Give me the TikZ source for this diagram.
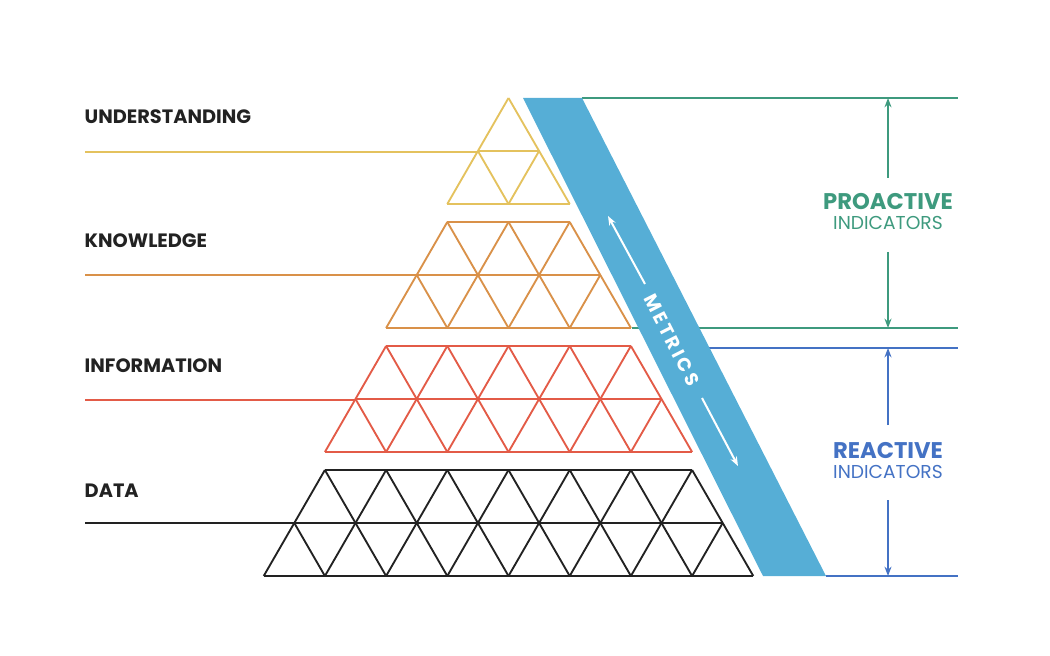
\documentclass[tikz,border=0pt]{standalone}
\usepackage{fontspec}
\setmainfont{Poppins}
\usetikzlibrary{arrows.meta}
\definecolor{yel}{HTML}{E4C25E}
\definecolor{ora}{HTML}{D99149}
\definecolor{redd}{HTML}{E35B47}
\definecolor{blk}{HTML}{222222}
\definecolor{band}{HTML}{56AED6}
\definecolor{grn}{HTML}{3E9A7E}
\definecolor{blu}{HTML}{4472C4}
% one band of the pyramid: #1 colour, #2 top y, #3 triangles along the top edge
\newcommand{\layer}[3]{%
  \pgfmathsetmacro{\xl}{508.5-#3*30.6}
  \pgfmathsetmacro{\xr}{508.5+#3*30.6}
  \draw[#1] (\xl,#2) -- (\xr,#2);
  \draw[#1] (\xl-30.6,#2+53) -- (\xr+30.6,#2+53);
  \draw[#1] (\xl-61.2,#2+106) -- (\xr+61.2,#2+106);
  \foreach \i in {0,...,#3}{
    \draw[#1] (\xl+\i*61.2,#2) -- ++(-61.2,106);
    \draw[#1] (\xl+\i*61.2,#2) -- ++(61.2,106);
  }
  \draw[#1] (\xl-30.6,#2+53) -- (\xl,#2+106);
  \draw[#1] (\xr+30.6,#2+53) -- (\xr,#2+106);
}
\begin{document}
\begin{tikzpicture}[x=0.75pt,y=-0.75pt]
    \tikzstyle{tri} = [line width=1.4pt]
    \tikzstyle{lbl} = [anchor=west,font=\bfseries\fontsize{14.5}{16}\selectfont,text=blk]
    \tikzstyle{ind} = [font=\fontsize{14}{16}\selectfont]
    \tikzstyle{varr} = [line width=1.3pt,-{Stealth[length=7pt]}]
    \useasboundingbox (0,0) rectangle (1050,656);

    % right-hand guide lines
    \draw[grn,line width=1.3pt] (582,98) -- (958,98);
    \draw[grn,line width=1.3pt] (632,328) -- (958,328);
    \draw[blu,line width=1.3pt] (700,348) -- (958,348);
    \draw[blu,line width=1.3pt] (826,576) -- (958,576);

    % left lines and labels
    \draw[yel,tri] (85,152) -- (478,152);
    \draw[ora,tri] (85,275) -- (417,275);
    \draw[redd,tri] (85,400) -- (356,400);
    \draw[blk,tri] (85,523) -- (295,523);
    \node[lbl] (und) at (80,117) {UNDERSTANDING};
    \node[lbl] (kno) at (80,241) {KNOWLEDGE};
    \node[lbl] (inf) at (80,366) {INFORMATION};
    \node[lbl] (dat) at (80,491) {DATA};

    % pyramid
    \layer{yel,tri}{98}{0}
    \layer{ora,tri}{222}{2}
    \layer{redd,tri}{346}{4}
    \layer{blk,tri}{470}{6}

    % metrics band
    \fill[band] (523,98) -- (582,98) -- (826,576) -- (763,576) -- cycle;
    \node[text=white,font=\bfseries\fontsize{14}{16}\selectfont,rotate=-62.9,inner sep=0pt] (met) at (672,340) {M\,E\,T\,R\,I\,C\,S};
    \draw[white,line width=1.5pt,-{Stealth[length=7pt]}] (645,284) -- (608,216);
    \draw[white,line width=1.5pt,-{Stealth[length=7pt]}] (702,398) -- (738,466);

    % indicators
    \node[ind,text=grn] (pro) at (888,202) {\bfseries\fontsize{17}{19}\selectfont PROACTIVE};
    \node[ind,text=grn] (pro2) at (888,223) {INDICATORS};
    \node[ind,text=blu] (rea) at (888,451) {\bfseries\fontsize{17}{19}\selectfont REACTIVE};
    \node[ind,text=blu] (rea2) at (888,472) {INDICATORS};
    \coordinate (g1) at (888,98); \coordinate (g2) at (888,328);
    \coordinate (b1) at (888,348); \coordinate (b2) at (888,576);
    \draw[grn,varr] (888,178) -- (g1);
    \draw[grn,varr] (888,252) -- (g2);
    \draw[blu,varr] (888,425) -- (b1);
    \draw[blu,varr] (888,500) -- (b2);
\end{tikzpicture}
\end{document}
